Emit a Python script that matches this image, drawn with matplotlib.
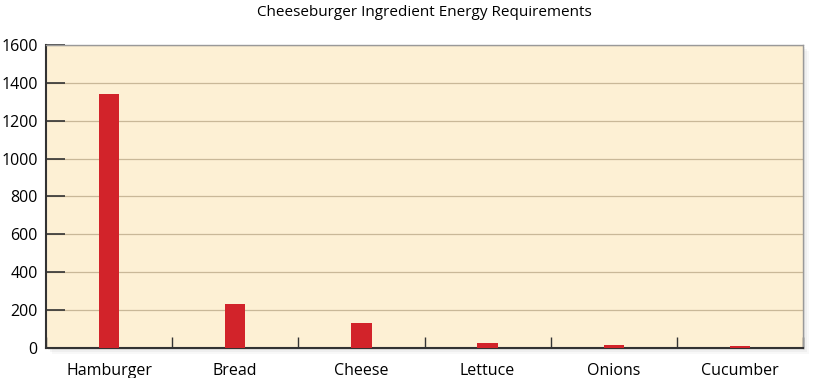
import numpy as np
import matplotlib.pyplot as plt
from matplotlib.patches import Rectangle

# data
ingredients = ["Hamburger", "Bread", "Cheese", "Lettuce", "Onions", "Cucumber"]
energy = [1340, 231, 130, 25, 17, 12]
y_ticks = [0, 200, 400, 600, 800, 1000, 1200, 1400, 1600]

plt.rcParams['font.family'] = ['Open Sans', 'DejaVu Sans']

fig = plt.figure(figsize=(8.21, 3.78), dpi=100)
ax = fig.add_axes([46/821, 1 - 348/378, (803-46)/821, (348-45)/378])

# soft drop shadow behind the plot frame
for i, a in enumerate([0.12, 0.08, 0.05]):
    off = (i + 1) * 2
    fig.patches.append(Rectangle((46/821 + off/821, 1 - 348/378 - off/378),
                                 (803-46)/821, (348-45)/378,
                                 transform=fig.transFigure, facecolor='gray',
                                 alpha=a, zorder=-5, edgecolor='none'))

ax.set_facecolor('#fdf0d4')
x = np.arange(len(ingredients))
ax.bar(x, energy, width=0.16, color='#d2232a', zorder=3)

ax.set_xlim(-0.5, len(ingredients) - 0.5)
ax.set_ylim(0, 1600)
ax.set_yticks(y_ticks)
ax.yaxis.grid(True, color='#c9b898', linewidth=0.9, zorder=1)
ax.tick_params(axis='y', direction='in', length=14, width=1.2, color='#333333',
               labelsize=11.5, pad=6)

ax.set_xticks(x)
ax.set_xticklabels(ingredients, fontsize=11.5)
ax.tick_params(axis='x', length=0, pad=11)
ax.set_xticks(np.arange(len(ingredients) + 1) - 0.5, minor=True)
ax.tick_params(axis='x', which='minor', direction='in', length=8, width=1,
               color='#333333')

for s in ['top', 'right']:
    ax.spines[s].set_color('#999999')
    ax.spines[s].set_linewidth(1)
ax.spines['left'].set_color('#333333')
ax.spines['left'].set_linewidth(1.5)
ax.spines['bottom'].set_color('#333333')
ax.spines['bottom'].set_linewidth(1.5)

fig.text(424/821, 1 - 12/378, "Cheeseburger Ingredient Energy Requirements",
         ha='center', va='center', fontsize=11)

fig.savefig("out.png", dpi=100)
